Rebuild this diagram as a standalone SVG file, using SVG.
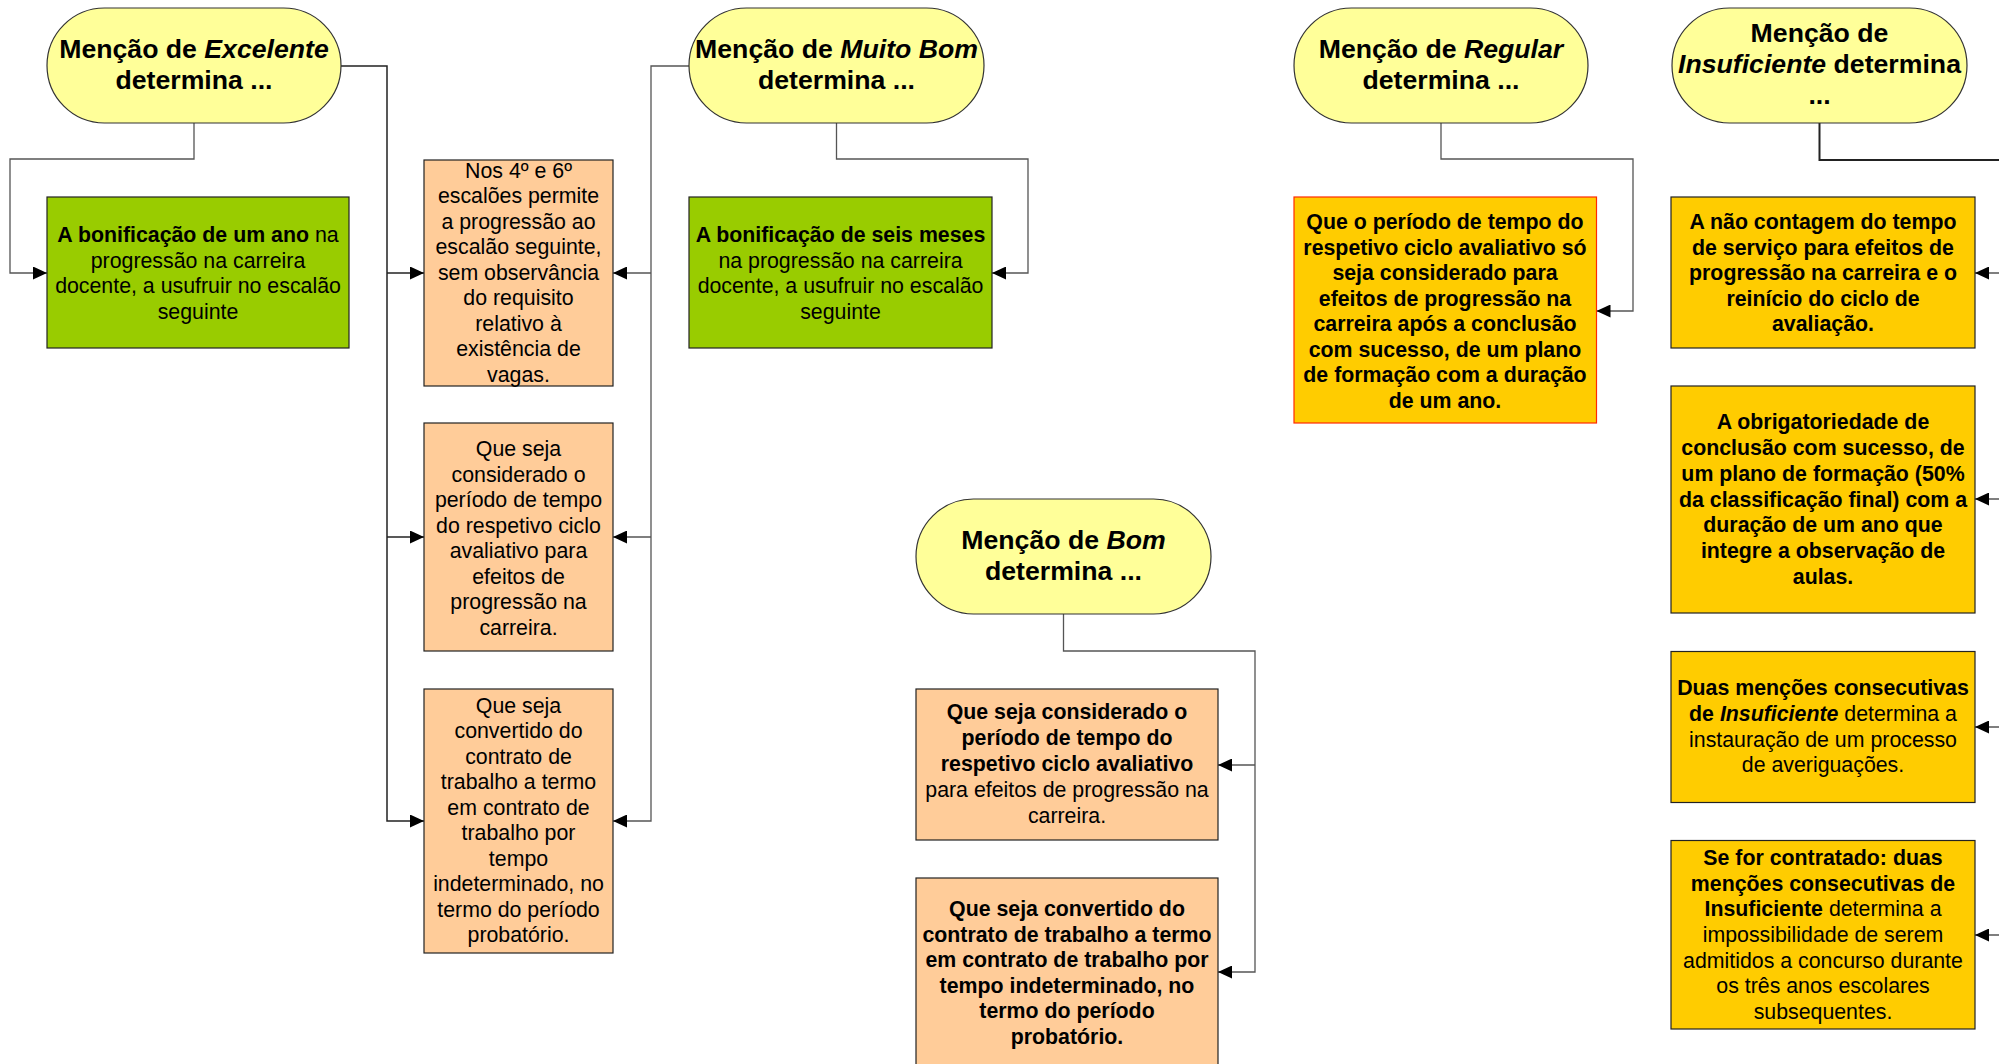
<svg xmlns="http://www.w3.org/2000/svg" width="1999" height="1064" viewBox="0 0 1999 1064">
<defs>
<marker id="arr" markerUnits="userSpaceOnUse" markerWidth="14" markerHeight="13" refX="14" refY="6.5" orient="auto">
<path d="M0,0 L14,6.5 L0,13 z" fill="#000"/>
</marker>
<style>
.st{fill:#FFFF99;stroke:#333;stroke-width:1.2}
.gr{fill:#99CC00;stroke:#222;stroke-width:1.2}
.or{fill:#FFCC99;stroke:#222;stroke-width:1.2}
.go{fill:#FFCC00;stroke:#222;stroke-width:1.2}
.rd{fill:#FFCC00;stroke:#FF2A00;stroke-width:1.2}
.t{font-family:"Liberation Sans",Arial,sans-serif;text-anchor:middle;fill:#000}
.tt{font-size:26.67px;font-weight:bold}
.bt{font-size:21.33px}
.b{font-weight:bold}
.i{font-style:italic}
.cn{fill:none;stroke:#555;stroke-width:1.3}
.ck{fill:none;stroke:#222;stroke-width:1.5}
.ca{marker-end:url(#arr)}
</style>
</defs>
<g id="connectors">
<path class="cn ca" d="M194,123 V159 H10 V273 H47"/>
<path class="ck ca" d="M341,66 H387 V821 H424"/>
<path class="ck ca" d="M387,273 H424"/>
<path class="ck ca" d="M387,537 H424"/>
<path class="cn ca" d="M689,66 H651 V821 H613"/>
<path class="cn ca" d="M651,273 H613"/>
<path class="cn ca" d="M651,537 H613"/>
<path class="cn ca" d="M836.5,123 V159 H1028 V273 H992"/>
<path class="cn ca" d="M1441,123 V159 H1633 V311 H1596.5"/>
<path class="ck" style="stroke-width:2" d="M1819.5,123 V160 H2010 V935"/>
<path class="cn ca" d="M2010,273 H1975"/>
<path class="cn ca" d="M2010,499 H1975"/>
<path class="cn ca" d="M2010,727 H1975"/>
<path class="cn ca" d="M2010,935 H1975"/>
<path class="cn ca" d="M1063.5,614 V651 H1255 V972 H1218"/>
<path class="cn ca" d="M1255,765 H1218"/>
</g>
<g id="excelente">
<rect class="st" x="47" y="8" width="294" height="115" rx="57.5" ry="57.5"/>
<text class="t tt" x="194" y="58">Menção de <tspan class="i">Excelente</tspan></text>
<text class="t tt" x="194" y="89">determina ...</text>
</g>
<g id="muito-bom">
<rect class="st" x="689" y="8" width="295" height="115" rx="57.5" ry="57.5"/>
<text class="t tt" x="836.5" y="58">Menção de <tspan class="i">Muito Bom</tspan></text>
<text class="t tt" x="836.5" y="89">determina ...</text>
</g>
<g id="regular">
<rect class="st" x="1294" y="8" width="294" height="115" rx="57.5" ry="57.5"/>
<text class="t tt" x="1441" y="58">Menção de <tspan class="i">Regular</tspan></text>
<text class="t tt" x="1441" y="89">determina ...</text>
</g>
<g id="insuficiente">
<rect class="st" x="1672" y="8" width="295" height="115" rx="57.5" ry="57.5"/>
<text class="t tt" x="1819.5" y="42">Menção de</text>
<text class="t tt" x="1819.5" y="73"><tspan class="i">Insuficiente</tspan> determina</text>
<text class="t tt" x="1819.5" y="104">...</text>
</g>
<g id="bom">
<rect class="st" x="916" y="499" width="295" height="115" rx="57.5" ry="57.5"/>
<text class="t tt" x="1063.5" y="549">Menção de <tspan class="i">Bom</tspan></text>
<text class="t tt" x="1063.5" y="580">determina ...</text>
</g>
<g id="exc-bonificacao">
<rect class="gr" x="47" y="197" width="302" height="151"/>
<text class="t bt" x="198" y="242"><tspan class="b">A bonificação de um ano</tspan> na</text>
<text class="t bt" x="198" y="267.5">progressão na carreira</text>
<text class="t bt" x="198" y="293">docente, a usufruir no escalão</text>
<text class="t bt" x="198" y="318.5">seguinte</text>
</g>
<g id="escaloes">
<rect class="or" x="424" y="160" width="189" height="226"/>
<text class="t bt" x="518.5" y="177.5">Nos 4º e 6º</text>
<text class="t bt" x="518.5" y="203">escalões permite</text>
<text class="t bt" x="518.5" y="228.5">a progressão ao</text>
<text class="t bt" x="518.5" y="254">escalão seguinte,</text>
<text class="t bt" x="518.5" y="279.5">sem observância</text>
<text class="t bt" x="518.5" y="305">do requisito</text>
<text class="t bt" x="518.5" y="330.5">relativo à</text>
<text class="t bt" x="518.5" y="356">existência de</text>
<text class="t bt" x="518.5" y="381.5">vagas.</text>
</g>
<g id="considerado">
<rect class="or" x="424" y="423" width="189" height="228"/>
<text class="t bt" x="518.5" y="456">Que seja</text>
<text class="t bt" x="518.5" y="481.5">considerado o</text>
<text class="t bt" x="518.5" y="507">período de tempo</text>
<text class="t bt" x="518.5" y="532.5">do respetivo ciclo</text>
<text class="t bt" x="518.5" y="558">avaliativo para</text>
<text class="t bt" x="518.5" y="583.5">efeitos de</text>
<text class="t bt" x="518.5" y="609">progressão na</text>
<text class="t bt" x="518.5" y="634.5">carreira.</text>
</g>
<g id="convertido">
<rect class="or" x="424" y="689" width="189" height="264"/>
<text class="t bt" x="518.5" y="712.5">Que seja</text>
<text class="t bt" x="518.5" y="738">convertido do</text>
<text class="t bt" x="518.5" y="763.5">contrato de</text>
<text class="t bt" x="518.5" y="789">trabalho a termo</text>
<text class="t bt" x="518.5" y="814.5">em contrato de</text>
<text class="t bt" x="518.5" y="840">trabalho por</text>
<text class="t bt" x="518.5" y="865.5">tempo</text>
<text class="t bt" x="518.5" y="891">indeterminado, no</text>
<text class="t bt" x="518.5" y="916.5">termo do período</text>
<text class="t bt" x="518.5" y="942">probatório.</text>
</g>
<g id="mb-bonificacao">
<rect class="gr" x="689" y="197" width="303" height="151"/>
<text class="t bt b" x="840.5" y="242">A bonificação de seis meses</text>
<text class="t bt" x="840.5" y="267.5">na progressão na carreira</text>
<text class="t bt" x="840.5" y="293">docente, a usufruir no escalão</text>
<text class="t bt" x="840.5" y="318.5">seguinte</text>
</g>
<g id="reg-formacao">
<rect class="rd" x="1294" y="197" width="302.5" height="226"/>
<text class="t bt b" x="1445" y="229">Que o período de tempo do</text>
<text class="t bt b" x="1445" y="254.5">respetivo ciclo avaliativo só</text>
<text class="t bt b" x="1445" y="280">seja considerado para</text>
<text class="t bt b" x="1445" y="305.5">efeitos de progressão na</text>
<text class="t bt b" x="1445" y="331">carreira após a conclusão</text>
<text class="t bt b" x="1445" y="356.5">com sucesso, de um plano</text>
<text class="t bt b" x="1445" y="382">de formação com a duração</text>
<text class="t bt b" x="1445" y="407.5">de um ano.</text>
</g>
<g id="ins-contagem">
<rect class="go" x="1671" y="197" width="304" height="151"/>
<text class="t bt b" x="1823" y="229">A não contagem do tempo</text>
<text class="t bt b" x="1823" y="254.5">de serviço para efeitos de</text>
<text class="t bt b" x="1823" y="280">progressão na carreira e o</text>
<text class="t bt b" x="1823" y="305.5">reinício do ciclo de</text>
<text class="t bt b" x="1823" y="331">avaliação.</text>
</g>
<g id="ins-plano">
<rect class="go" x="1671" y="386" width="304" height="227"/>
<text class="t bt b" x="1823" y="429">A obrigatoriedade de</text>
<text class="t bt b" x="1823" y="455">conclusão com sucesso, de</text>
<text class="t bt b" x="1823" y="480.5">um plano de formação (50%</text>
<text class="t bt b" x="1823" y="506.5">da classificação final) com a</text>
<text class="t bt b" x="1823" y="532">duração de um ano que</text>
<text class="t bt b" x="1823" y="557.5">integre a observação de</text>
<text class="t bt b" x="1823" y="583.5">aulas.</text>
</g>
<g id="ins-averiguacoes">
<rect class="go" x="1671" y="651.5" width="304" height="151"/>
<text class="t bt b" x="1823" y="694.5">Duas menções consecutivas</text>
<text class="t bt" x="1823" y="720.5"><tspan class="b">de <tspan class="i">Insuficiente</tspan></tspan> determina a</text>
<text class="t bt" x="1823" y="746.5">instauração de um processo</text>
<text class="t bt" x="1823" y="772">de averiguações.</text>
</g>
<g id="ins-contratado">
<rect class="go" x="1671" y="840.5" width="304" height="188.5"/>
<text class="t bt b" x="1823" y="865">Se for contratado: duas</text>
<text class="t bt b" x="1823" y="890.5">menções consecutivas de</text>
<text class="t bt" x="1823" y="916"><tspan class="b">Insuficiente</tspan> determina a</text>
<text class="t bt" x="1823" y="942">impossibilidade de serem</text>
<text class="t bt" x="1823" y="967.5">admitidos a concurso durante</text>
<text class="t bt" x="1823" y="993">os três anos escolares</text>
<text class="t bt" x="1823" y="1019">subsequentes.</text>
</g>
<g id="bom-considerado">
<rect class="or" x="916" y="689" width="302" height="151"/>
<text class="t bt b" x="1067" y="719">Que seja considerado o</text>
<text class="t bt b" x="1067" y="745">período de tempo do</text>
<text class="t bt b" x="1067" y="770.5">respetivo ciclo avaliativo</text>
<text class="t bt" x="1067" y="796.5">para efeitos de progressão na</text>
<text class="t bt" x="1067" y="822.5">carreira.</text>
</g>
<g id="bom-convertido">
<rect class="or" x="916" y="878" width="302" height="200"/>
<text class="t bt b" x="1067" y="916">Que seja convertido do</text>
<text class="t bt b" x="1067" y="941.5">contrato de trabalho a termo</text>
<text class="t bt b" x="1067" y="967">em contrato de trabalho por</text>
<text class="t bt b" x="1067" y="992.5">tempo indeterminado, no</text>
<text class="t bt b" x="1067" y="1018">termo do período</text>
<text class="t bt b" x="1067" y="1043.5">probatório.</text>
</g>
</svg>
